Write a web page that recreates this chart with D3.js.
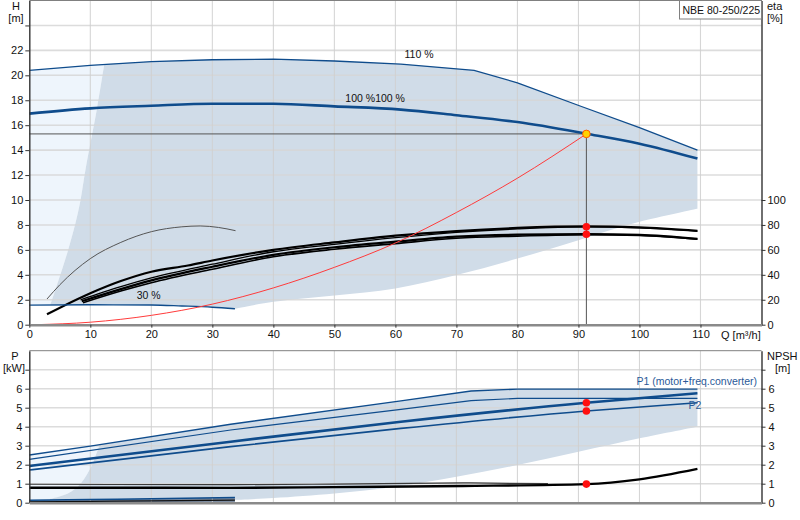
<!DOCTYPE html>
<html lang="en">
<head>
<meta charset="UTF-8">
<title>NBE 80-250/225 pump curves</title>
<script src="https://d3js.org/d3.v7.min.js"></script>
<style>
  body { margin: 0; background: #fff; }
  svg { display: block; font-family: "Liberation Sans", Arial, sans-serif; font-size: 11px; }
</style>
</head>
<body>
<div id="chart"></div>
<script>
// ---- tick labels ----
const qTicks = [0, 10, 20, 30, 40, 50, 60, 70, 80, 90, 100, 110];
const hTicks = [0, 2, 4, 6, 8, 10, 12, 14, 16, 18, 20, 22, 24];
const etaTicks = [0, 20, 40, 60, 80, 100];
const pTicks = [0, 1, 2, 3, 4, 5, 6, 7];

// ---- head curves [Q m3/h, H m] ----
const head110 = [[0, 20.4], [10, 20.8], [20, 21.1], [30, 21.25], [40, 21.3], [50, 21.15], [60.9, 20.9], [72.9, 20.4], [80, 19.4], [90.5, 17.5], [100, 15.8], [109.5, 14.0]];
const head100 = [[0, 16.93], [10, 17.35], [20, 17.56], [30, 17.72], [40, 17.72], [50, 17.51], [60.9, 17.25], [70, 16.8], [80, 16.25], [91.3, 15.32], [100, 14.52], [109.5, 13.32]];
const head30 = [[0, 1.57], [10, 1.6], [20, 1.58], [25, 1.5], [30, 1.4], [33.7, 1.28]];
const systemCurve = [[1, 0], [10, 0.2], [20, 0.75], [30, 1.65], [40, 2.95], [50, 4.6], [60, 6.55], [70, 9.0], [80, 11.75], [91.3, 15.3]];
// operating area edges (head)
const areaEdgeH = [[3.45, 1.58], [4.8, 3.58], [6.2, 5.72], [7.55, 8.12], [8.4, 10.0], [9.2, 12.4], [11.1, 17.35], [12.3, 20.9]];
const areaLowH = [[33.7, 1.28], [40, 1.84], [50, 2.35], [60, 2.91], [70, 3.98], [80, 5.3], [90, 6.78], [100, 8.25], [109.5, 9.3]];

// ---- efficiency curves [Q, eta %] ----
const etaA = [[2.9, 8.3], [10, 25.2], [15, 35], [20, 42.5], [26, 47.5], [30, 51.5], [40, 60], [50, 66], [60, 71.4], [70, 75.1], [80, 77.6], [91.3, 78.8], [100, 78], [109.5, 75.3]];
const etaB = [[8.4, 20], [15, 30.5], [20, 37.5], [30, 48.5], [40, 58.5], [50, 64.5], [60, 69.8], [70, 74.1], [80, 76.8], [91.3, 78.4], [100, 77.6], [109.5, 75.1]];
const etaC = [[8.6, 18.8], [15, 28.5], [20, 35.5], [30, 46.5], [40, 56], [50, 62.1], [60, 66.6], [70, 70.6], [80, 72.2], [91.3, 72.6], [100, 72], [109.5, 68.8]];
const etaD = [[8.8, 17.6], [15, 27], [20, 33.7], [30, 44.5], [40, 54.5], [50, 60.5], [60, 65], [70, 69.3], [80, 71], [91.3, 72.2], [100, 71.6], [109.5, 68.6]];
const eta30 = [[2.9, 20.6], [5, 32], [10, 53], [15, 66], [20, 74.6], [25, 78.5], [28, 79.2], [31, 78], [33.8, 75.4]];

// ---- power curves [Q, P kW] ----
const p1at110 = [[0, 2.51], [10, 2.98], [33, 4.13], [60.9, 5.36], [72.4, 5.88], [80, 5.98], [109.5, 5.98]];
const p2at110 = [[0, 2.28], [33, 3.83], [60.9, 4.91], [72.4, 5.37], [80, 5.49], [109.5, 5.49]];
const p1at100 = [[0, 1.93], [33, 3.21], [60.9, 4.26], [91.3, 5.26], [109.5, 5.76]];
const p2at100 = [[0, 1.72], [33, 2.95], [60.9, 3.91], [91.3, 4.83], [109.5, 5.26]];
const p1at30 = [[0, 0.13], [10, 0.17], [20, 0.21], [33.7, 0.28]];
const p2at30 = [[0, 0.05], [10, 0.07], [20, 0.1], [33.7, 0.14]];
const areaEdgeP = [[3.4, 0.2], [6.4, 0.5], [8.4, 1.0], [10.3, 2.0], [11.5, 3.0], [11.7, 3.06]];
const areaLowP = [[33.7, 0.15], [40, 0.25], [50, 0.49], [60, 0.84], [70, 1.37], [80, 1.98], [90, 2.68], [100, 3.39], [109.5, 4.0]];

// ---- NPSH curves [Q, m] ----
const npshMain = [[0, 0.79], [11, 0.79], [33, 0.78], [50, 0.82], [71, 0.88], [91.3, 0.98], [100, 1.23], [109.5, 1.78]];
const npshThin = [[0, 0.97], [33, 0.95], [50, 0.98], [71, 1.04], [85, 1.0]];

// ---- duty point ----
const duty = { q: 91.3, h: 15.3, etaHi: 78.6, etaLo: 72.5, p1: 5.26, p2: 4.83, npsh: 0.98 };

const width = 800, height = 520;
const blue = "#0f4c8c", shade = "#d0dce8", light = "#eef5fc";

const svg = d3.select("#chart").append("svg")
  .attr("width", width).attr("height", height)
  .attr("viewBox", [0, 0, width, height]);

const x = d3.scaleLinear().domain([0, 120]).range([29.3, 761.5]);
const yH = d3.scaleLinear().domain([0, 26]).range([324.7, 0.5]);
const yEta = d3.scaleLinear().domain([0, 260]).range([324.7, 0.5]);
const yP = d3.scaleLinear().domain([0, 8]).range([502.7, 350.7]);

const smooth = d3.curveMonotoneX, straight = d3.curveLinear, bend = d3.curveCatmullRom;

function path(pts, ys, curve) {
  return d3.line().x(d => x(d[0])).y(d => ys(d[1])).curve(curve || smooth)(pts);
}
// joins several runs of points into one closed shape; each part is [points, curve]
function shape(parts, ys) {
  return parts.map(([p, c], i) => {
    const s = d3.line().x(d => x(d[0])).y(d => ys(d[1])).curve(c || straight)(p);
    return i === 0 ? s : "L" + s.slice(1);
  }).join("") + "Z";
}

// ================= TOP PANEL =================
const gTop = svg.append("g");

// light area left of the operating range
gTop.append("path")
  .attr("fill", light)
  .attr("d", shape([
    [head110.filter(d => d[0] < 12.3).concat([areaEdgeH[areaEdgeH.length - 1]])],
    [areaEdgeH.slice().reverse(), bend],
    [head30.filter(d => d[0] < 3.45).reverse()]
  ], yH));

// operating area
gTop.append("path")
  .attr("fill", shade)
  .attr("d", shape([
    [areaEdgeH, bend],
    [head110.filter(d => d[0] > 12.3)],
    [areaLowH.slice().reverse(), bend],
    [head30.filter(d => d[0] > 3.45 && d[0] < 33.7).reverse(), bend]
  ], yH));

// grid
gTop.append("g").selectAll("line")
  .data(hTicks.filter(d => d > 0))
  .join("line")
  .attr("x1", x(0)).attr("x2", x(120))
  .attr("y1", d => yH(d)).attr("y2", d => yH(d))
  .attr("stroke", "#d6d6d6").attr("stroke-opacity", 0.85).attr("stroke-width", 1.6);
gTop.append("g").selectAll("line")
  .data(qTicks.filter(d => d > 0))
  .join("line")
  .attr("x1", d => x(d)).attr("x2", d => x(d))
  .attr("y1", yH(0)).attr("y2", yH(26))
  .attr("stroke", "#cfcfcf").attr("stroke-opacity", 0.85).attr("stroke-width", 1.1);

// duty point guide lines
gTop.append("line")
  .attr("x1", x(0)).attr("x2", x(duty.q))
  .attr("y1", yH(duty.h)).attr("y2", yH(duty.h))
  .attr("stroke", "#555").attr("stroke-width", 1);
gTop.append("line")
  .attr("x1", x(duty.q)).attr("x2", x(duty.q))
  .attr("y1", yH(duty.h)).attr("y2", yH(0))
  .attr("stroke", "#555").attr("stroke-width", 1);

// efficiency curves
const etaCurves = [
  { d: eta30, w: 1, c: "#555" },
  { d: etaD, w: 1.6, c: "#000" },
  { d: etaC, w: 2.2, c: "#000" },
  { d: etaB, w: 1.3, c: "#000" },
  { d: etaA, w: 2.2, c: "#000" }
];
gTop.append("g").attr("fill", "none")
  .selectAll("path")
  .data(etaCurves)
  .join("path")
  .attr("d", d => path(d.d, yEta))
  .attr("stroke", d => d.c)
  .attr("stroke-width", d => d.w);

// head curves
const headCurves = [
  { d: head30, w: 1.3, c: smooth },
  { d: head110, w: 1.3, c: straight },
  { d: head100, w: 2.6, c: smooth }
];
gTop.append("g").attr("fill", "none")
  .selectAll("path")
  .data(headCurves)
  .join("path")
  .attr("d", d => path(d.d, yH, d.c))
  .attr("stroke", blue)
  .attr("stroke-width", d => d.w);

// system curve
gTop.append("path")
  .attr("fill", "none")
  .attr("stroke", "#ff3b3b")
  .attr("stroke-width", 1)
  .attr("d", path(systemCurve, yH));

// duty point markers
gTop.append("g").selectAll("circle")
  .data([duty.etaHi, duty.etaLo])
  .join("circle")
  .attr("cx", x(duty.q)).attr("cy", d => yEta(d)).attr("r", 3.8)
  .attr("fill", "#ff1010");
gTop.append("circle")
  .attr("cx", x(duty.q)).attr("cy", yH(duty.h)).attr("r", 3.8)
  .attr("fill", "#ffd200").attr("stroke", "#ff5a00").attr("stroke-width", 1);

// curve labels
const curveLabels = [
  { t: "110 %", q: 61.5, h: 21.4 },
  { t: "100 %100 %", q: 51.8, h: 17.9 },
  { t: "30 %", q: 17.6, h: 2.05 }
];
gTop.append("g").selectAll("text")
  .data(curveLabels)
  .join("text")
  .attr("x", d => x(d.q)).attr("y", d => yH(d.h))
  .attr("fill", "#111")
  .style("font-size", "10.5px")
  .text(d => d.t);

// axes
const axLeft = gTop.append("g")
  .attr("transform", `translate(${x(0)},0)`)
  .call(d3.axisLeft(yH).tickValues(hTicks).tickSize(4).tickSizeOuter(0)
    .tickFormat(d => d <= 22 ? d : ""));
const axRight = gTop.append("g")
  .attr("transform", `translate(${x(120)},0)`)
  .call(d3.axisRight(yEta).tickValues(etaTicks).tickSize(4).tickSizeOuter(0));
const axBottom = gTop.append("g")
  .attr("transform", `translate(0,${yH(0)})`)
  .call(d3.axisBottom(x).tickValues(qTicks).tickSize(3).tickSizeOuter(0));

// top frame and product label box
gTop.append("line")
  .attr("x1", x(0)).attr("x2", x(120)).attr("y1", 0.5).attr("y2", 0.5)
  .attr("stroke", "#808080");
gTop.append("rect")
  .attr("x", 679.5).attr("y", 0.5).attr("width", x(120) - 679.5).attr("height", 18.5)
  .attr("fill", "#fff").attr("stroke", "#808080");
gTop.append("text")
  .attr("x", 682.5).attr("y", 13.5).attr("fill", "#111")
  .style("font-size", "10.5px")
  .text("NBE 80-250/225");

// ================= BOTTOM PANEL =================
const gBot = svg.append("g");

gBot.append("path")
  .attr("fill", light)
  .attr("d", shape([
    [[[0, 0.1]]],
    [p1at110.filter(d => d[0] < 11.7).concat([areaEdgeP[areaEdgeP.length - 1]])],
    [areaEdgeP.slice().reverse(), bend],
    [[[1, 0.1]]]
  ], yP));

gBot.append("path")
  .attr("fill", shade)
  .attr("d", shape([
    [areaEdgeP, bend],
    [p1at110.filter(d => d[0] > 11.7)],
    [areaLowP.slice().reverse(), bend],
    [[[33.7, 0], [3.4, 0]]]
  ], yP));

// dark band under the 30 % power curve
gBot.append("path")
  .attr("fill", "#7f8ea3")
  .attr("d", shape([[p1at30, bend], [[[33.7, 0], [0, 0]]]], yP));

gBot.append("g").selectAll("line")
  .data(pTicks.filter(d => d > 0))
  .join("line")
  .attr("x1", x(0)).attr("x2", x(120))
  .attr("y1", d => yP(d)).attr("y2", d => yP(d))
  .attr("stroke", "#d6d6d6").attr("stroke-opacity", 0.85).attr("stroke-width", 1.6);
gBot.append("g").selectAll("line")
  .data(qTicks.filter(d => d > 0))
  .join("line")
  .attr("x1", d => x(d)).attr("x2", d => x(d))
  .attr("y1", yP(0)).attr("y2", yP(8))
  .attr("stroke", "#cfcfcf").attr("stroke-opacity", 0.85).attr("stroke-width", 1.1);

// NPSH curves
gBot.append("path")
  .attr("fill", "none").attr("stroke", "#3a3a3a").attr("stroke-width", 1.2)
  .attr("d", path(npshThin, yP));
gBot.append("path")
  .attr("fill", "none").attr("stroke", "#000").attr("stroke-width", 2.4)
  .attr("d", path(npshMain, yP));

// power curves
const powerCurves = [
  { d: p2at30, w: 1.2, c: "#111", k: smooth },
  { d: p1at30, w: 1.5, c: blue, k: smooth },
  { d: p1at110, w: 1.4, c: blue, k: straight },
  { d: p2at110, w: 1.1, c: blue, k: straight },
  { d: p2at100, w: 1.6, c: blue, k: smooth },
  { d: p1at100, w: 2.6, c: blue, k: smooth }
];
gBot.append("g").attr("fill", "none")
  .selectAll("path")
  .data(powerCurves)
  .join("path")
  .attr("d", d => path(d.d, yP, d.k))
  .attr("stroke", d => d.c)
  .attr("stroke-width", d => d.w);

gBot.append("g").selectAll("circle")
  .data([duty.p1, duty.p2, duty.npsh])
  .join("circle")
  .attr("cx", x(duty.q)).attr("cy", d => yP(d)).attr("r", 3.8)
  .attr("fill", "#ff1010");

gBot.append("text")
  .attr("x", 636.5).attr("y", 385).attr("fill", "#2a5a98")
  .style("font-size", "10.5px")
  .text("P1 (motor+freq.converter)");
gBot.append("text")
  .attr("x", 688.5).attr("y", 408.5).attr("fill", "#2a5a98")
  .style("font-size", "10.5px")
  .text("P2");

gBot.append("g")
  .attr("transform", `translate(${x(0)},0)`)
  .call(d3.axisLeft(yP).tickValues(pTicks).tickSize(4).tickSizeOuter(0)
    .tickFormat(d => d <= 6 ? d : ""));
gBot.append("g")
  .attr("transform", `translate(${x(120)},0)`)
  .call(d3.axisRight(yP).tickValues(pTicks).tickSize(4).tickSizeOuter(0)
    .tickFormat(d => d <= 6 ? d : ""));
const axBottomP = gBot.append("g")
  .attr("transform", `translate(0,${yP(0)})`)
  .call(d3.axisBottom(x).tickValues([]).tickSizeOuter(0));
gBot.append("line")
  .attr("x1", x(0)).attr("x2", x(120)).attr("y1", yP(8)).attr("y2", yP(8))
  .attr("stroke", "#808080");

// axis styling
svg.selectAll(".domain").attr("stroke", "#333").attr("stroke-width", 1.4);
svg.selectAll(".tick line").attr("stroke", "#333");
svg.selectAll(".tick text").attr("fill", "#111")
  .style("font-family", '"Liberation Sans", Arial, sans-serif').style("font-size", "11px");
axBottom.select(".domain").attr("stroke", "#8a8a8a").attr("stroke-width", 2.4);
axBottomP.select(".domain").attr("stroke", "#8a8a8a").attr("stroke-width", 2.4);
axLeft.selectAll(".tick text").attr("x", -6);
axRight.selectAll(".tick text").attr("x", 6);

// axis titles
const titles = [
  { t: "H", x: 16, y: 10, a: "middle" },
  { t: "[m]", x: 16, y: 22, a: "middle" },
  { t: "eta", x: 767, y: 10, a: "start" },
  { t: "[%]", x: 767, y: 22, a: "start" },
  { t: "Q [m³/h]", x: 721, y: 339, a: "start" },
  { t: "P", x: 15, y: 360, a: "middle" },
  { t: "[kW]", x: 14, y: 372, a: "middle" },
  { t: "NPSH", x: 767, y: 360, a: "start" },
  { t: "[m]", x: 775, y: 372, a: "start" }
];
svg.append("g").selectAll("text")
  .data(titles)
  .join("text")
  .attr("x", d => d.x).attr("y", d => d.y)
  .attr("text-anchor", d => d.a)
  .attr("fill", "#111")
  .text(d => d.t);
</script>
</body>
</html>
